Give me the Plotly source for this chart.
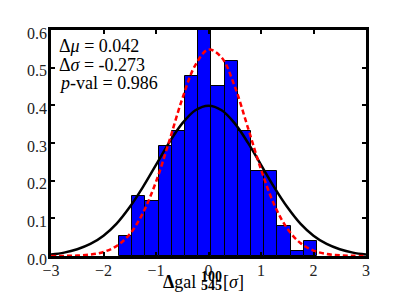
import plotly.graph_objects as go

# ---- data ----
bin_edges = [-1.705, -1.453, -1.202, -0.950, -0.699, -0.447, -0.196, 0.056,
             0.307, 0.559, 0.810, 1.062, 1.313, 1.565, 1.816, 2.068]
bin_heights = [0.053, 0.159, 0.146, 0.292, 0.332, 0.478, 0.637, 0.451,
               0.518, 0.332, 0.225, 0.225, 0.080, 0.013, 0.040]

curve_x = [-3.0, -2.75, -2.5, -2.25, -2.0, -1.75, -1.5, -1.25, -1.0, -0.75, -0.5, -0.25,
           0.0, 0.25, 0.5, 0.75, 1.0, 1.25, 1.5, 1.75, 2.0, 2.25, 2.5, 2.75, 3.0]
ref_curve = [0.004, 0.009, 0.018, 0.032, 0.054, 0.086, 0.130, 0.183, 0.242, 0.301, 0.352, 0.387,
             0.399, 0.387, 0.352, 0.301, 0.242, 0.183, 0.130, 0.086, 0.054, 0.032, 0.018, 0.009, 0.004]
fit_curve = [0.0001, 0.0003, 0.0012, 0.0038, 0.0107, 0.0265, 0.058, 0.114, 0.197, 0.304, 0.417, 0.507,
             0.548, 0.527, 0.450, 0.341, 0.230, 0.137, 0.073, 0.0345, 0.0145, 0.0054, 0.0018, 0.0005, 0.0001]

stat_lines = ["Δ<i>μ</i> = 0.042", "Δ<i>σ</i> = -0.273", "<i>p</i>-val = 0.986"]
x_ticks = [-3, -2, -1, 0, 1, 2, 3]
x_tick_text = ["−3", "−2", "−1", "0", "1", "2", "3"]
y_ticks = [0.0, 0.1, 0.2, 0.3, 0.4, 0.5, 0.6]
y_tick_text = ["0.0", "0.1", "0.2", "0.3", "0.4", "0.5", "0.6"]

centers = [(a + b) / 2 for a, b in zip(bin_edges[:-1], bin_edges[1:])]
widths = [b - a for a, b in zip(bin_edges[:-1], bin_edges[1:])]

FONT = "Liberation Serif"
OFF = 8  # page body margin
W, H = 407 - 2 * OFF, 307 - 2 * OFF
# plot area in screenshot pixels: x 51..366, y 30..256
PL, PR, PT, PB = 51, 366, 30, 256
L, R, T, B = PL - OFF, W - (PR - OFF), PT - OFF, H - (PB - OFF)

def px(x):
    return (x - PL) / (PR - PL)

def py(y):
    return (PB - y) / (PB - PT)

fig = go.Figure()
fig.add_trace(go.Bar(x=centers, y=bin_heights, width=widths,
                     marker=dict(color="#0000ff", line=dict(color="black", width=1)),
                     hoverinfo="skip"))
fig.add_trace(go.Scatter(x=curve_x, y=ref_curve, mode="lines", line_shape="spline",
                         line=dict(color="black", width=2.5)))
fig.add_trace(go.Scatter(x=curve_x, y=fit_curve, mode="lines", line_shape="spline",
                         line=dict(color="red", width=2.5, dash="5px,3px")))

annotations = []
for i, t in enumerate(stat_lines):
    annotations.append(dict(text=t, xref="paper", yref="paper", x=px(57), y=py(46.5 + 18.3 * i),
                            xanchor="left", yanchor="middle", showarrow=False,
                            font=dict(family=FONT, size=18, color="black")))

# x-axis title pieces: Δgal^{100}_{545}[σ]
annotations.append(dict(text="<b>Δ</b>gal", xref="paper", yref="paper", x=px(198), y=py(281.5),
                        xanchor="right", yanchor="middle", showarrow=False,
                        font=dict(family=FONT, size=18, color="black")))
annotations.append(dict(text="<b>100</b>", xref="paper", yref="paper", x=px(198.5), y=py(276),
                        xanchor="left", yanchor="middle", showarrow=False,
                        font=dict(family=FONT, size=14, color="black")))
annotations.append(dict(text="<b>545</b>", xref="paper", yref="paper", x=px(198.5), y=py(285.5),
                        xanchor="left", yanchor="middle", showarrow=False,
                        font=dict(family=FONT, size=14, color="black")))
annotations.append(dict(text="[<i>σ</i>]", xref="paper", yref="paper", x=px(221), y=py(281.5),
                        xanchor="left", yanchor="middle", showarrow=False,
                        font=dict(family=FONT, size=18, color="black")))

axis_common = dict(showline=True, linewidth=2.5, linecolor="black", mirror="allticks",
                   ticks="inside", ticklen=4, tickwidth=1.5, tickcolor="black",
                   showgrid=False, zeroline=False, automargin=False,
                   tickfont=dict(family=FONT, size=16, color="#222"))

fig.update_layout(
    width=W, height=H,
    margin=dict(l=L, r=R, t=T, b=B),
    paper_bgcolor="white", plot_bgcolor="white",
    showlegend=False, bargap=0,
    xaxis=dict(range=[-3, 3], tickvals=x_ticks, ticktext=x_tick_text,
               ticklabelstandoff=-2, **axis_common),
    yaxis=dict(range=[0, 0.6], tickvals=y_ticks, ticktext=y_tick_text,
               ticklabelstandoff=-2, ticklabelshift=3, **axis_common),
    annotations=annotations,
)

fig.write_html("out.html")
